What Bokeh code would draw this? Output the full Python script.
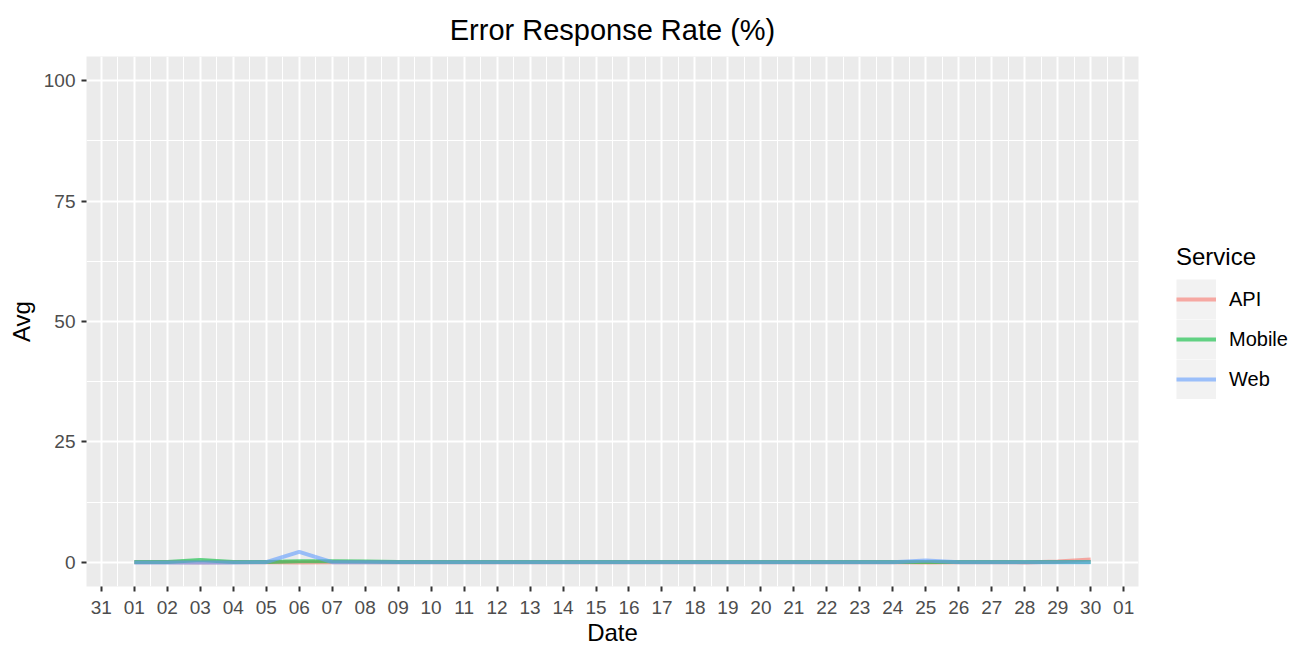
import pandas as pd
from bokeh.plotting import figure
from bokeh.models import (Range1d, FixedTicker, DatetimeTickFormatter, Legend,
                          LegendItem, ColumnDataSource)
from bokeh.embed import file_html
from bokeh.resources import INLINE

# ---- data ----
dates = pd.date_range("2023-09-01", "2023-09-30", freq="D")
services = ["API", "Mobile", "Web"]
colors = ["#F8766D", "#00BA38", "#619CFF"]
api = [0.05, 0.05, 0.0, 0.05, 0.05, 0.0, 0.05, 0.05, 0.05, 0.05,
       0.05, 0.05, 0.05, 0.05, 0.05, 0.05, 0.05, 0.05, 0.05, 0.05,
       0.05, 0.05, 0.05, 0.05, 0.0, 0.05, 0.05, 0.0, 0.2, 0.6]
mobile = [0.1, 0.1, 0.5, 0.1, 0.1, 0.25, 0.25, 0.2, 0.1, 0.1,
          0.1, 0.1, 0.1, 0.1, 0.1, 0.1, 0.1, 0.1, 0.1, 0.1,
          0.1, 0.1, 0.1, 0.1, 0.1, 0.1, 0.1, 0.1, 0.1, 0.1]
web = [0.0, 0.0, 0.0, 0.0, 0.05, 2.2, 0.05, 0.05, 0.05, 0.05,
       0.05, 0.05, 0.05, 0.05, 0.05, 0.05, 0.05, 0.05, 0.05, 0.05,
       0.05, 0.05, 0.05, 0.05, 0.4, 0.05, 0.05, 0.05, 0.05, 0.05]
series = [api, mobile, web]
y_ticks = [0, 25, 50, 75, 100]
y_minor = [12.5, 37.5, 62.5, 87.5]

DAY = 86400000.0
def ms(ts):
    return ts.value / 1e6

x_major = [ms(d) for d in pd.date_range("2023-08-31", "2023-10-01", freq="D")]
x_minor = [t + DAY / 2 for t in x_major[:-1]]
span = ms(dates[-1]) - ms(dates[0])
xr = Range1d(start=ms(dates[0]) - 0.05 * span, end=ms(dates[-1]) + 0.05 * span)

FONT = "Liberation Sans"

p = figure(output_backend="svg", toolbar_location=None,
           x_axis_type="datetime", x_range=xr, y_range=Range1d(-5, 105),
           frame_width=1052, frame_height=530,
           min_border_left=86, min_border_top=56, min_border_bottom=58, min_border_right=164)

p.background_fill_color = "#EBEBEB"
p.border_fill_color = "white"
p.outline_line_color = None

p.title.text = "Error Response Rate (%)"
p.title.align = "center"
p.title.text_font = FONT
p.title.text_font_size = "29px"
p.title.text_font_style = "normal"
p.title.text_color = "black"
p.title.standoff = 22

p.xaxis.ticker = FixedTicker(ticks=x_major, minor_ticks=x_minor)
p.xaxis.formatter = DatetimeTickFormatter(
    milliseconds="%d", seconds="%d", minsec="%d", minutes="%d", hourmin="%d",
    hours="%d", days="%d", months="%d", years="%d")
p.yaxis.ticker = FixedTicker(ticks=y_ticks, minor_ticks=y_minor)

for ax in (p.xaxis, p.yaxis):
    ax.axis_line_color = None
    ax.major_tick_line_color = "#333333"
    ax.major_tick_line_width = 2
    ax.major_tick_out = 5
    ax.major_tick_in = 0
    ax.minor_tick_line_color = None
    ax.major_label_text_font = FONT
    ax.major_label_text_font_size = "19px"
    ax.major_label_text_color = "#4D4D4D"
    ax.axis_label_text_font = FONT
    ax.axis_label_text_font_size = "24px"
    ax.axis_label_text_font_style = "normal"
    ax.axis_label_text_color = "black"
p.xaxis.axis_label = "Date"
p.yaxis.axis_label = "Avg"
p.xaxis.major_label_standoff = 9
p.yaxis.major_label_standoff = 6
p.xaxis.axis_label_standoff = 2
p.yaxis.axis_label_standoff = 6

for g in (p.xgrid, p.ygrid):
    g.grid_line_color = "white"
    g.grid_line_width = 2
    g.minor_grid_line_color = "white"
    g.minor_grid_line_width = 1.1

items = []
for name, col, vals in zip(services, colors, series):
    src = ColumnDataSource(dict(x=list(dates), y=vals))
    r = p.line("x", "y", source=src, line_color=col, line_alpha=0.6, line_width=4)
    key = p.line(x=[float("nan")], y=[float("nan")], line_width=40,
                 line_color="#F2F2F2", line_cap="butt")
    items.append(LegendItem(label=name, renderers=[key, r]))

legend = Legend(items=items, title="Service", location=(38, 187),
                title_text_font=FONT, title_text_font_size="24px",
                title_text_font_style="normal", title_text_color="black",
                label_text_font=FONT, label_text_font_size="20px",
                label_text_color="black",
                glyph_width=40, glyph_height=40, label_height=40, spacing=0,
                label_standoff=13, padding=0, margin=0, title_standoff=8,
                border_line_color=None, background_fill_color="white",
                background_fill_alpha=0)
p.add_layout(legend, "right")

open("out.html", "w").write(file_html(p, INLINE))
